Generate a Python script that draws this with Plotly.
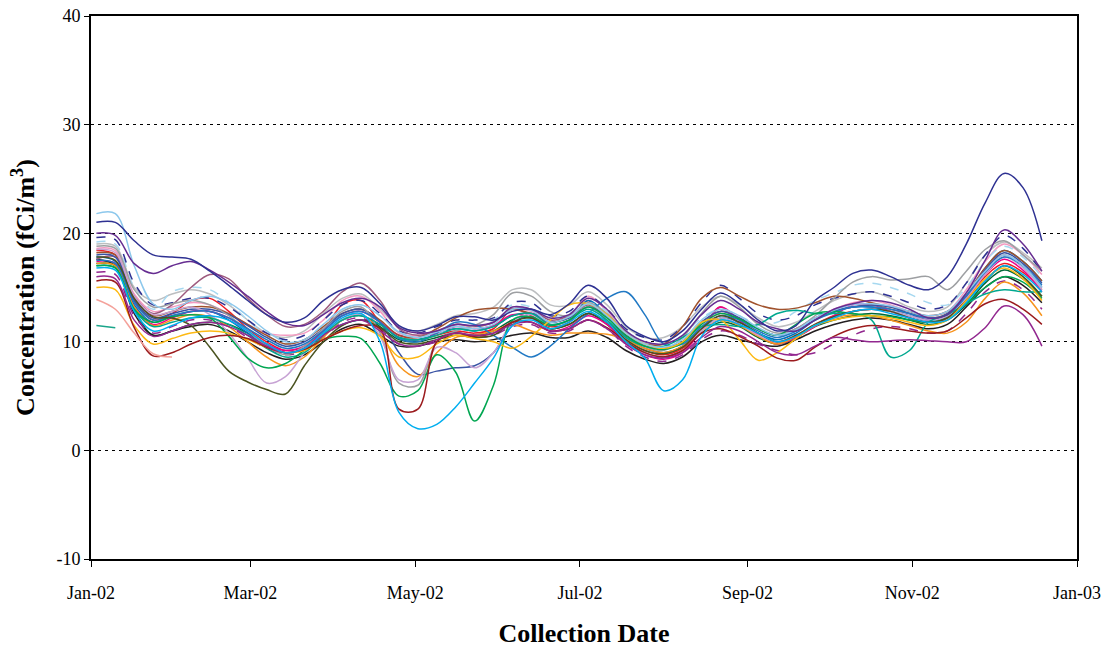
import pandas as pd
import plotly.graph_objects as go

# weekly collection dates
dates = pd.date_range("2002-01-03", periods=51, freq="7D")

site_01 = [21.0, 21.0, 19.3, 18.0, 17.8, 17.6, 16.5, 15.2, 13.8, 12.5,
           11.8, 12.2, 13.8, 14.8, 15.0, 13.5, 11.5, 11.0, 11.5, 12.3,
           12.3, 12.0, 12.8, 13.0, 12.5, 13.5, 15.2, 14.0, 11.5, 10.5,
           10.0, 11.0, 13.0, 14.5, 13.5, 12.0, 11.0, 11.5, 13.8, 15.0,
           16.3, 16.6, 16.0, 15.2, 14.8, 16.0, 19.0, 22.8, 25.5, 24.2, 19.3]
site_02 = [20.0, 19.8, 17.2, 16.3, 17.0, 17.4, 16.6, 15.5, 14.2, 12.8,
           11.7, 11.5, 12.5, 13.6, 14.0, 13.2, 11.3, 10.8, 11.0, 11.6,
           11.5, 11.8, 13.2, 13.0, 12.2, 12.5, 14.0, 13.0, 11.0, 10.0,
           9.8, 10.6, 12.5, 13.8, 13.0, 11.8, 11.2, 11.0, 12.0, 13.0,
           13.5, 13.8, 13.6, 13.0, 12.2, 12.5, 14.5, 17.5, 20.3, 19.0, 16.5]
site_03 = [21.8, 21.8, 17.0, 13.5, 13.0, 13.8, 14.2, 13.6, 12.4, 11.0,
           10.0, 10.2, 11.6, 13.0, 13.4, 12.4, 10.9, 10.4, 10.9, 11.4,
           11.2, 11.6, 13.0, 12.9, 11.8, 12.3, 13.5, 12.4, 10.8, 9.8,
           9.5, 10.2, 12.0, 13.0, 12.4, 11.3, 10.6, 11.1, 12.2, 12.9,
           13.4, 13.5, 13.3, 12.8, 12.4, 12.8, 14.5, 16.5, 18.0, 17.0, 15.0]
site_04 = [13.9, 13.0, 10.8, 8.9, 8.6] + [None] * 46
site_05 = [11.5, 11.3] + [None] * 49
site_06 = [15.6, 15.5, 11.3, 8.7, 9.0, 9.8, 10.4, 10.6, 10.3, 9.5,
           9.0, 9.3, 10.2, 11.0, 11.5, 11.2, 3.8, 3.8, 10.0, 10.8,
           10.5, 10.8, 11.8, 11.8, 11.0, 11.2, 12.0, 11.3, 10.0, 9.0,
           8.6, 9.2, 10.8, 11.2, 10.5, 9.6, 8.5, 8.3, 9.5, 10.5,
           11.2, 11.5, 11.3, 11.0, 10.8, 11.0, 12.2, 13.5, 13.9, 13.0, 11.6]
site_07 = [15.0, 14.8, 11.5, 9.8, 10.3, 10.8, 11.0, 10.8, 10.2, 9.5,
           9.0, 9.2, 10.2, 11.0, 11.3, 10.5, 8.6, 8.6, 9.8, 10.6,
           10.3, 10.0, 9.4, 10.5, 12.0, 13.4, 13.5, 12.5, 10.8, 9.8,
           9.4, 10.0, 11.8, 12.0, 10.2, 8.3, 9.0, 10.3, 11.5, 12.0,
           12.3, 12.4, 12.2, 11.8, 11.5, 12.0, 13.8, 15.8, 16.8, 15.8, 13.8]
site_08 = [17.8, 17.5, 14.0, 12.3, 12.2, 11.5, 9.5, 7.3, 6.3, 5.6,
           5.2, 7.8, 10.0, 11.5, 12.0, 11.3, 10.0, 9.8, 10.2, 10.6,
           10.4, 10.6, 11.8, 12.2, 11.2, 11.6, 12.6, 11.8, 10.2, 9.2,
           8.9, 9.5, 11.2, 12.4, 11.8, 10.8, 10.0, 10.6, 11.6, 12.3,
           12.8, 13.0, 12.8, 12.2, 11.8, 12.2, 13.8, 15.6, 17.0, 16.0, 14.2]
site_09 = [17.0, 16.8, 13.0, 11.8, 12.3, 12.5, 12.2, 10.5, 8.5, 7.6,
           8.0, 9.2, 10.2, 10.5, 10.3, 8.0, 5.0, 5.5, 8.8, 7.2,
           2.7, 6.0, 12.0, 12.3, 11.5, 12.0, 13.2, 12.2, 10.6, 9.6,
           9.3, 9.9, 11.6, 12.6, 12.1, 11.2, 10.6, 11.6, 12.6, 12.8,
           12.6, 12.4, 12.3, 12.0, 11.8, 12.2, 13.5, 15.0, 16.0, 15.5, 14.0]
site_10 = [16.8, 16.6, 12.8, 11.0, 11.5, 12.2, 12.4, 12.0, 11.0, 9.8,
           9.0, 9.4, 10.8, 12.2, 12.6, 10.0, 3.5, 2.0, 2.4, 4.0,
           6.2, 8.5, 11.5, 12.0, 11.2, 11.8, 12.8, 11.8, 10.0, 8.5,
           5.5, 6.5, 10.5, 12.0, 11.6, 10.8, 10.0, 10.5, 11.5, 12.2,
           12.8, 13.0, 12.6, 12.2, 11.8, 12.0, 13.6, 15.6, 17.0, 16.2, 14.6]
site_11 = [17.5, 17.2, 13.6, 12.0, 12.4, 12.8, 12.8, 12.2, 11.2, 10.2,
           9.4, 9.8, 11.0, 12.4, 12.8, 11.8, 10.3, 10.0, 10.8, 11.8,
           11.6, 10.6, 9.5, 8.6, 9.6, 11.2, 12.6, 14.0, 14.6, 12.5,
           9.8, 9.8, 11.4, 12.4, 12.0, 11.0, 10.4, 11.0, 12.0, 12.7,
           13.2, 13.2, 13.0, 12.6, 12.2, 12.5, 14.2, 16.4, 17.8, 17.0, 15.2]
site_12 = [18.5, 18.2, 14.2, 12.5, 12.8, 13.2, 12.5, 10.8, 8.5, 6.2,
           6.8, 9.0, 10.8, 12.0, 12.5, 10.5, 6.5, 6.5, 9.5, 9.0,
           7.6, 9.0, 11.8, 12.5, 11.5, 12.0, 13.2, 12.0, 10.2, 9.0,
           8.5, 9.2, 11.0, 12.2, 11.6, 10.6, 10.0, 10.6, 11.6, 12.2,
           12.8, 13.0, 12.8, 12.4, 12.0, 12.4, 14.0, 16.2, 17.8, 16.8, 14.8]
site_13 = [18.8, 18.6, 14.8, 13.2, 13.5, 13.8, 13.4, 12.4, 11.0, 9.6,
           8.8, 9.6, 11.2, 12.8, 13.2, 10.8, 6.2, 6.0, 10.0, 11.0,
           11.5, 12.5, 14.5, 14.2, 12.8, 12.4, 13.6, 12.6, 10.8, 9.6,
           9.2, 10.4, 12.6, 14.2, 13.2, 11.6, 10.8, 11.2, 12.4, 14.0,
           15.5, 16.0, 15.7, 15.8, 16.0, 14.8, 16.5, 18.5, 19.3, 18.0, 16.5]
site_14 = [17.2, 17.0, 13.2, 11.5, 12.0, 12.5, 12.3, 11.4, 10.0, 8.6,
           7.8, 8.6, 10.4, 12.0, 12.5, 11.0, 7.8, 6.8, 9.0, 10.4,
           10.6, 11.0, 11.6, 11.0, 10.6, 10.8, 10.8, 10.7, 10.2, 9.4,
           9.0, 9.6, 11.0, 12.0, 11.5, 10.5, 9.8, 10.5, 11.5, 12.2,
           12.5, 12.4, 12.0, 11.5, 11.0, 10.8, 11.8, 14.0, 15.5, 14.5, 12.4]
site_15 = [18.0, 17.8, 13.8, 12.2, 12.6, 13.0, 13.0, 12.5, 11.5, 10.4,
           9.6, 10.0, 11.2, 12.6, 13.0, 11.8, 9.0, 7.0, 7.3, 7.6,
           7.8, 9.0, 11.5, 12.6, 11.8, 12.2, 13.2, 12.4, 10.6, 9.6,
           9.4, 10.0, 11.8, 12.8, 12.2, 11.2, 10.6, 11.0, 12.0, 12.8,
           13.2, 13.4, 13.2, 12.6, 12.0, 12.6, 14.2, 16.6, 18.2, 17.2, 15.4]
site_16 = [18.2, 18.0, 14.0, 12.4, 12.8, 13.2, 13.2, 12.6, 11.6, 10.6,
           9.8, 10.2, 11.4, 12.6, 13.0, 12.0, 10.6, 10.4, 11.2, 12.2,
           12.9, 13.1, 13.0, 12.6, 11.8, 12.2, 13.2, 12.4, 10.6, 9.8,
           9.8, 11.4, 14.0, 15.0, 14.2, 13.4, 13.0, 13.1, 13.6, 14.2,
           14.0, 13.6, 13.2, 12.8, 12.4, 12.8, 14.4, 16.8, 18.4, 17.4, 15.6]
site_17 = [16.0, 15.8, 12.0, 10.5, 11.0, 11.6, 11.8, 11.4, 10.6, 9.6,
           9.0, 9.4, 10.6, 11.6, 12.0, 11.0, 9.8, 9.6, 10.2, 10.8,
           10.6, 10.8, 11.6, 11.8, 11.0, 11.2, 12.0, 11.2, 9.8, 8.8,
           8.5, 9.0, 10.4, 11.4, 11.0, 10.0, 9.0, 8.8, 9.6, 10.4,
           10.2, 10.0, 10.1, 10.2, 10.1, 10.0, 10.0, 11.3, 13.3, 12.5, 9.6]
site_18 = [17.6, 17.8, 14.2, 12.6, 13.4, 15.0, 16.2, 15.8, 14.0, 12.5,
           11.4, 11.6, 12.8, 14.6, 15.4, 13.8, 11.2, 10.6, 11.0, 11.6,
           11.4, 11.8, 13.0, 13.0, 12.0, 12.4, 13.4, 12.4, 10.6, 9.6,
           9.4, 10.0, 11.8, 12.8, 12.2, 11.2, 10.6, 11.2, 12.2, 12.8,
           13.2, 13.4, 13.0, 12.6, 12.2, 12.6, 14.4, 16.6, 18.0, 17.0, 15.0]
site_19 = [17.6, 17.0, 12.6, 10.6, 11.0, 11.4, 11.6, 11.0, 10.0, 9.0,
           8.4, 8.8, 10.0, 11.2, 11.6, 10.6, 9.6, 9.6, 10.0, 10.2,
           10.0, 10.2, 10.6, 10.8, 10.4, 10.4, 11.0, 10.4, 9.2, 8.4,
           8.0, 8.6, 10.0, 10.6, 10.2, 9.8, 9.6, 10.2, 11.0, 11.6,
           12.0, 12.2, 12.0, 11.6, 11.2, 11.6, 13.2, 15.0, 16.0, 15.2, 13.6]
site_20 = [17.4, 17.2, 13.2, 11.6, 12.2, 12.8, 12.8, 12.2, 11.0, 9.8,
           9.2, 9.6, 11.0, 12.4, 12.8, 11.8, 10.6, 10.4, 10.8, 11.4,
           11.2, 11.5, 12.5, 12.2, 11.0, 11.4, 12.4, 11.6, 9.8, 8.8,
           8.4, 9.0, 11.0, 13.2, 12.0, 10.6, 9.8, 10.4, 11.4, 12.4,
           13.4, 13.4, 12.8, 12.2, 11.8, 12.2, 14.0, 16.2, 17.6, 16.6, 14.6]
site_21 = [19.2, 19.0, 15.0, 13.0, 14.6, 15.0, 14.8, 13.6, 12.0, 10.6,
           9.8, 10.2, 11.6, 13.0, 13.4, 12.4, 10.8, 10.4, 10.8, 11.4,
           11.4, 12.0, 13.4, 13.2, 12.2, 12.6, 13.6, 12.8, 11.0, 10.0,
           9.8, 10.6, 12.2, 13.0, 12.4, 11.6, 11.8, 12.8, 13.8, 14.5,
           15.2, 15.4, 15.0, 14.4, 13.6, 13.4, 15.0, 17.4, 18.8, 17.8, 16.0]
site_22 = [19.6, 19.4, 15.4, 13.4, 13.6, 14.0, 14.0, 13.2, 12.0, 10.8,
           10.2, 10.6, 12.0, 13.4, 13.8, 12.6, 11.0, 10.8, 11.4, 12.0,
           12.0, 12.2, 13.6, 13.6, 12.4, 12.8, 14.2, 13.0, 11.2, 10.4,
           10.2, 11.4, 13.6, 15.2, 14.0, 12.6, 12.0, 12.4, 13.4, 14.0,
           14.4, 14.6, 14.2, 13.6, 13.0, 13.4, 15.4, 18.0, 19.8, 18.6, 16.4]
site_23 = [16.4, 16.2, 12.4, 10.8, 11.4, 12.0, 12.0, 11.4, 10.4, 9.4,
           8.8, 9.2, 10.4, 11.8, 12.2, 11.2, 9.8, 9.6, 10.0, 10.6,
           10.4, 10.6, 11.4, 11.6, 10.8, 11.0, 12.0, 11.2, 9.6, 8.6,
           8.2, 8.8, 10.2, 11.0, 10.6, 9.8, 9.2, 8.8, 9.0, 9.8,
           10.6, 11.2, 11.4, 11.2, 10.8, 11.0, 12.6, 14.6, 15.6, 14.8, 13.0]
site_24 = [17.0, 16.8, 13.0, 11.4, 11.8, 12.2, 12.2, 11.6, 10.6, 9.4,
           8.6, 9.0, 10.6, 12.0, 12.4, 11.6, 10.4, 10.2, 10.6, 11.2,
           11.0, 11.4, 12.4, 12.6, 11.6, 12.0, 13.0, 12.0, 10.4, 9.6,
           9.6, 10.4, 11.4, 11.6, 11.4, 11.6, 12.6, 12.9, 12.6, 12.6,
           12.6, 12.0, 8.6, 9.2, 11.8, 12.5, 13.5, 14.4, 14.8, 14.6, 14.6]
site_25 = [18.6, 18.4, 14.4, 12.8, 13.2, 13.6, 13.4, 12.6, 11.6, 10.8,
           10.6, 10.8, 12.0, 13.8, 14.2, 12.8, 10.8, 10.6, 11.0, 11.6,
           11.4, 11.8, 13.0, 12.8, 11.8, 12.4, 14.2, 12.8, 10.8, 9.6,
           9.0, 9.6, 11.4, 12.6, 12.0, 11.2, 10.6, 11.2, 12.2, 13.0,
           13.6, 13.8, 13.4, 12.8, 12.4, 12.8, 14.8, 17.4, 19.0, 18.0, 16.2]
site_26 = [17.8, 17.4, 13.4, 11.8, 12.4, 12.8, 12.8, 12.0, 10.8, 9.6,
           9.0, 9.4, 10.8, 11.6, 12.0, 11.6, 10.4, 10.2, 10.8, 11.2,
           11.0, 11.4, 12.4, 12.6, 11.6, 12.0, 13.8, 12.4, 10.4, 9.4,
           9.0, 9.6, 11.2, 12.2, 11.8, 10.8, 10.2, 10.8, 12.0, 12.8,
           13.2, 13.2, 12.8, 12.4, 12.0, 12.4, 14.2, 16.8, 18.4, 17.4, 15.6]
site_27 = [18.4, 18.0, 13.8, 12.0, 12.6, 13.8, 14.0, 12.8, 11.2, 10.0,
           9.2, 9.6, 11.0, 13.4, 13.8, 11.8, 10.4, 10.2, 10.6, 11.0,
           10.8, 11.2, 13.0, 12.4, 11.4, 11.8, 13.8, 11.8, 10.2, 9.2,
           8.8, 9.4, 11.0, 13.2, 11.6, 10.6, 10.0, 10.6, 11.6, 12.4,
           12.8, 13.0, 12.8, 12.2, 11.8, 12.2, 13.8, 16.0, 17.2, 16.4, 14.8]
site_28 = [19.0, 18.8, 15.0, 13.8, 14.4, 14.8, 14.4, 13.4, 12.0, 10.8,
           10.4, 11.0, 12.6, 14.0, 14.4, 13.0, 11.4, 11.0, 11.6, 12.4,
           12.6, 13.2, 14.8, 14.8, 13.4, 13.4, 14.6, 13.4, 11.4, 10.4,
           10.4, 11.4, 13.2, 14.2, 13.4, 12.2, 11.4, 11.8, 12.8, 13.8,
           14.4, 14.6, 14.0, 13.2, 12.8, 13.2, 15.4, 18.0, 19.2, 18.2, 16.8]
site_29 = [17.2, 17.0, 13.0, 10.6, 11.0, 11.6, 11.8, 11.6, 10.8, 9.8,
           9.0, 9.4, 10.8, 12.0, 12.4, 11.4, 10.2, 10.0, 10.4, 10.8,
           10.6, 11.0, 12.0, 12.2, 11.2, 11.6, 12.6, 11.6, 10.0, 9.0,
           8.6, 9.2, 10.8, 11.8, 11.4, 10.4, 9.8, 10.4, 11.4, 12.0,
           12.4, 12.6, 12.4, 12.0, 11.6, 12.0, 13.4, 15.4, 16.6, 15.8, 14.2]

# (values, colour, dash) per site
series = [
    (site_28, "#BCBEC0", "solid"),
    (site_25, "#F49AC1", "solid"),
    (site_27, "#ED1C24", "solid"),
    (site_29, "#006838", "solid"),
    (site_26, "#0072BC", "solid"),
    (site_20, "#EC008C", "solid"),
    (site_19, "#231F20", "solid"),
    (site_21, "#A6D8F0", "dash"),
    (site_22, "#2E3192", "dash"),
    (site_23, "#92278F", "dash"),
    (site_16, "#A0522D", "solid"),
    (site_18, "#9E5B7E", "solid"),
    (site_15, "#3953A4", "solid"),
    (site_14, "#F7941D", "solid"),
    (site_13, "#9D9FA2", "solid"),
    (site_12, "#C7A3D4", "solid"),
    (site_11, "#2179C4", "solid"),
    (site_24, "#00A88F", "solid"),
    (site_09, "#00A651", "solid"),
    (site_08, "#4A5320", "solid"),
    (site_07, "#FDB913", "solid"),
    (site_06, "#9B1B1E", "solid"),
    (site_17, "#92278F", "solid"),
    (site_10, "#00AEEF", "solid"),
    (site_03, "#8DC8EC", "solid"),
    (site_02, "#662D91", "solid"),
    (site_04, "#F4A19A", "solid"),
    (site_05, "#1AA58A", "solid"),
    (site_01, "#2E3192", "solid"),
]

y_ticks = [-10, 0, 10, 20, 30, 40]
y_labels = ["-10", "0", "10", "20", "30", "40"]

fig = go.Figure()
for vals, col, dash in series:
    fig.add_trace(go.Scatter(x=dates, y=vals, mode="lines",
                             line=dict(color=col, width=1.5, dash=dash,
                                       shape="spline", smoothing=1.0),
                             hoverinfo="skip"))

font = "Liberation Serif, Times New Roman, serif"
fig.update_layout(
    width=1107, height=649,
    margin=dict(l=91, r=30, t=16, b=90),
    paper_bgcolor="white", plot_bgcolor="white",
    showlegend=False,
    font=dict(family=font, size=18, color="black"),
)
fig.update_xaxes(
    range=["2002-01-01", "2003-01-01"], automargin=False,
    tick0="2002-01-01", dtick="M2", tickformat="%b-%y",
    ticks="outside", ticklen=6, tickcolor="black", ticklabelstandoff=10,
    ticklabeloverflow="allow",
    showline=True, linecolor="black", linewidth=2, mirror=True,
    showgrid=False, zeroline=False,
    title=dict(text="<b>Collection Date</b>", font=dict(size=26), standoff=22),
)
fig.update_yaxes(
    range=[-10, 40], automargin=False,
    tickvals=y_ticks, ticktext=y_labels,
    ticks="outside", ticklen=5, tickcolor="black",
    ticklabeloverflow="allow",
    showline=True, linecolor="black", linewidth=2, mirror=True,
    showgrid=True, gridcolor="black", griddash="3px,4px", gridwidth=1,
    zeroline=False,
    title=dict(text="<b>Concentration (fCi/m<sup>3</sup>)</b>", font=dict(size=26), standoff=14),
)

# drop the default page margin so the figure fills the window exactly
fig.write_html("out.html", config={"displayModeBar": False},
               post_script="document.body.style.margin='0';")
